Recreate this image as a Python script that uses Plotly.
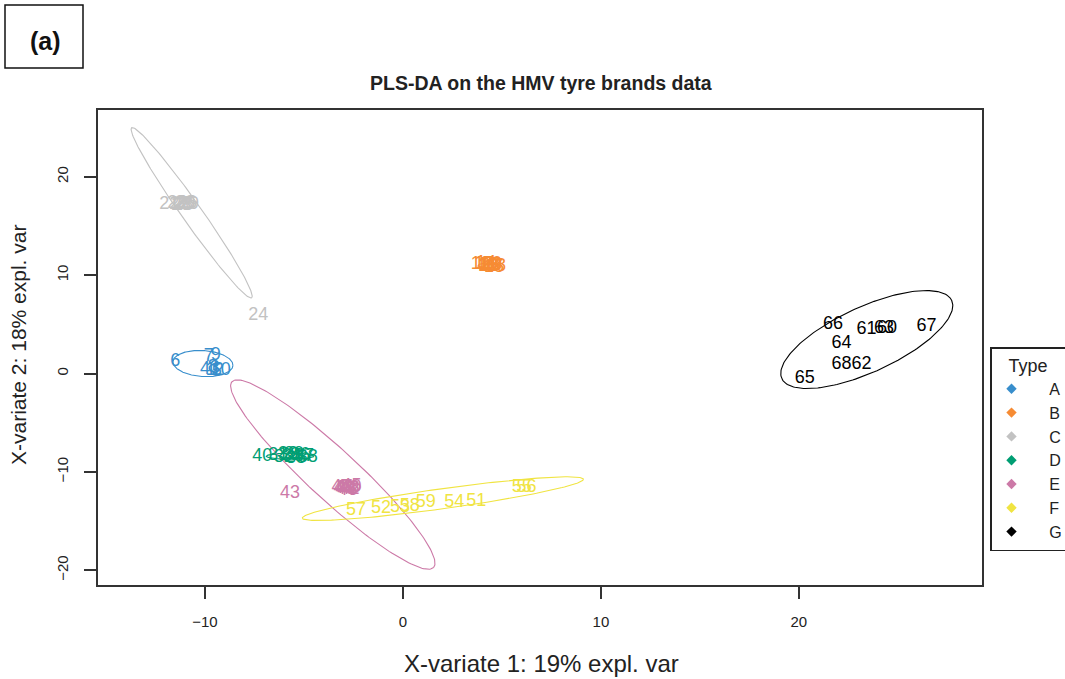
import numpy as np
import plotly.graph_objects as go

# ---------------- data ----------------
groups = ["A", "B", "C", "D", "E", "F", "G"]
colors = ["#388ECC", "#F68B33", "#C2C2C2", "#009E73", "#CC79A7", "#F0E442", "#000000"]

A_ids = [1, 2, 3, 4, 5, 6, 7, 8, 9, 10]
A_x = [-9.7, -9.3, -9.5, -10.0, -9.4, -11.5, -9.8, -9.6, -9.45, -9.2]
A_y = [0.3, 0.3, 0.5, 0.4, 0.2, 1.2, 1.7, 0.6, 1.8, 0.3]

B_ids = [11, 12, 13, 14, 15, 16, 17, 18, 19, 20]
B_x = [3.9, 4.3, 4.5, 4.2, 4.6, 4.4, 4.1, 4.7, 4.3, 4.5]
B_y = [11.1, 10.9, 11.0, 11.2, 10.8, 11.0, 11.1, 10.9, 11.0, 11.1]

C_ids = [21, 22, 23, 24, 25, 26, 27, 28, 29, 30]
C_x = [-11.8, -11.4, -11.2, -7.3, -11.0, -10.9, -11.3, -11.1, -10.8, -11.0]
C_y = [17.2, 17.3, 17.1, 5.9, 17.2, 17.3, 17.2, 17.1, 17.2, 17.3]

D_ids = [31, 32, 33, 34, 35, 36, 37, 38, 39, 40]
D_x = [-6.3, -6.0, -5.8, -5.6, -5.4, -5.2, -5.0, -4.8, -5.5, -7.1]
D_y = [-8.3, -8.5, -8.2, -8.4, -8.6, -8.3, -8.4, -8.5, -8.2, -8.4]

E_ids = [41, 42, 43, 44, 45, 46, 47, 48, 49, 50]
E_x = [-2.9, -2.7, -5.7, -3.0, -2.6, -2.8, -3.1, -2.7, -2.9, -2.6]
E_y = [-11.6, -11.8, -12.2, -11.7, -11.5, -11.9, -11.6, -11.7, -11.8, -11.6]

F_ids = [51, 52, 53, 54, 55, 56, 57, 58, 59]
F_x = [3.7, -1.11, -0.15, 2.6, 6.0, 6.25, -2.37, 0.35, 1.15]
F_y = [-13.0, -13.7, -13.6, -13.1, -11.6, -11.6, -13.9, -13.5, -13.1]

G_ids = [60, 61, 62, 63, 64, 65, 66, 67, 68]
G_x = [24.45, 23.42, 23.17, 24.3, 22.16, 20.30, 21.72, 26.45, 22.16]
G_y = [4.6, 4.48, 0.92, 4.55, 3.05, -0.54, 5.0, 4.81, 0.92]

# 95% confidence ellipses: centre, major semi-axis vector, minor semi-axis vector
ell_cx = [-10.1, 4.3, -10.67, -5.7, -3.54, 2.02, 23.43]
ell_cy = [1.02, 11.0, 16.35, -8.4, -10.27, -12.72, 3.46]
ell_ux = [1.515, 0.5, 3.03, 1.2, 5.09, 7.10, 4.29]
ell_uy = [-0.203, 0.0, -8.65, 0.0, -9.45, 1.98, 3.97]
ell_wx = [0.043, 0.0, 0.413, 0.0, 0.856, 0.069, 0.687]
ell_wy = [1.32, 0.25, 0.587, 0.3, 1.87, -1.008, -3.01]

x_ticks = [-10, 0, 10, 20]
y_ticks = [-20, -10, 0, 10, 20]

title_text = "PLS-DA on the HMV tyre brands data"
xlab = "X-variate 1: 19% expl. var"
ylab = "X-variate 2: 18% expl. var"
legend_title = "Type"

# ---------------- figure ----------------
W, H = 1065, 679
L, R, T, B = 98, 83, 110, 94
pw, ph = W - L - R, H - T - B
NB = "\u00a0"


def px(x):
    return (x - L) / pw


def py(y):
    return (H - B - y) / ph


ids = [A_ids, B_ids, C_ids, D_ids, E_ids, F_ids, G_ids]
xs = [A_x, B_x, C_x, D_x, E_x, F_x, G_x]
ys = [A_y, B_y, C_y, D_y, E_y, F_y, G_y]

fig = go.Figure()
t = np.linspace(0, 2 * np.pi, 200)
for i, g in enumerate(groups):
    ex = ell_cx[i] + ell_ux[i] * np.cos(t) + ell_wx[i] * np.sin(t)
    ey = ell_cy[i] + ell_uy[i] * np.cos(t) + ell_wy[i] * np.sin(t)
    fig.add_trace(go.Scatter(x=ex, y=ey, mode="lines", line=dict(color=colors[i], width=1.1),
                             showlegend=False, hoverinfo="skip"))
for i, g in enumerate(groups):
    fig.add_trace(go.Scatter(x=xs[i], y=ys[i], mode="text", text=[str(v) for v in ids[i]],
                             textfont=dict(color=colors[i], size=18, family="Liberation Sans"),
                             showlegend=False, name=g))
for i, g in enumerate(groups):
    fig.add_trace(go.Scatter(x=[None], y=[None], mode="markers", name=NB * 4 + g,
                             marker=dict(symbol="diamond", size=8, color=colors[i])))

axis_common = dict(showgrid=False, zeroline=False, showline=True, mirror=True,
                   linecolor="#333333", linewidth=1.5, ticks="outside", ticklen=12,
                   tickcolor="#333333", tickwidth=1.5,
                   tickfont=dict(size=15, family="Liberation Sans", color="#222222"),
                   ticklabelstandoff=10)

fig.update_layout(
    width=W, height=H,
    margin=dict(l=L, r=R, t=T, b=B, autoexpand=False),
    paper_bgcolor="white", plot_bgcolor="white",
    xaxis=dict(range=[-15.4, 29.25], tickvals=x_ticks, **axis_common),
    yaxis=dict(range=[-21.5, 26.8], tickvals=y_ticks, tickangle=-90, **axis_common),
    legend=dict(x=px(990), y=py(347), xanchor="left", yanchor="top",
                bordercolor="#222222", borderwidth=1.5, bgcolor="white",
                font=dict(size=16, family="Liberation Sans", color="#222222"),
                title=dict(text=NB * 3 + legend_title,
                           font=dict(size=18, family="Liberation Sans", color="#222222")),
                itemwidth=30),
    font=dict(family="Liberation Sans"),
    annotations=[
        dict(text="<b>" + title_text + "</b>", x=px(541), y=py(83), xref="paper", yref="paper",
             showarrow=False, font=dict(size=19.5, color="#222222"), xanchor="center", yanchor="middle"),
        dict(text=xlab, x=px(541), y=py(663), xref="paper", yref="paper", showarrow=False,
             font=dict(size=24, color="#222222"), xanchor="center", yanchor="middle"),
        dict(text=ylab, x=px(18), y=py(345), xref="paper", yref="paper", showarrow=False,
             textangle=-90, font=dict(size=21, color="#222222"), xanchor="center", yanchor="middle"),
        dict(text="<b>(a)</b>", x=px(45), y=py(41), xref="paper", yref="paper", showarrow=False,
             font=dict(size=25, color="#111111"), xanchor="center", yanchor="middle"),
    ],
    shapes=[
        dict(type="rect", xref="paper", yref="paper", x0=px(5), x1=px(83), y0=py(5), y1=py(68),
             line=dict(color="#111111", width=1.5), fillcolor="rgba(0,0,0,0)"),
    ],
)

fig.write_html("out.html", config={"displayModeBar": False},
               post_script="document.body.style.margin='0';")
